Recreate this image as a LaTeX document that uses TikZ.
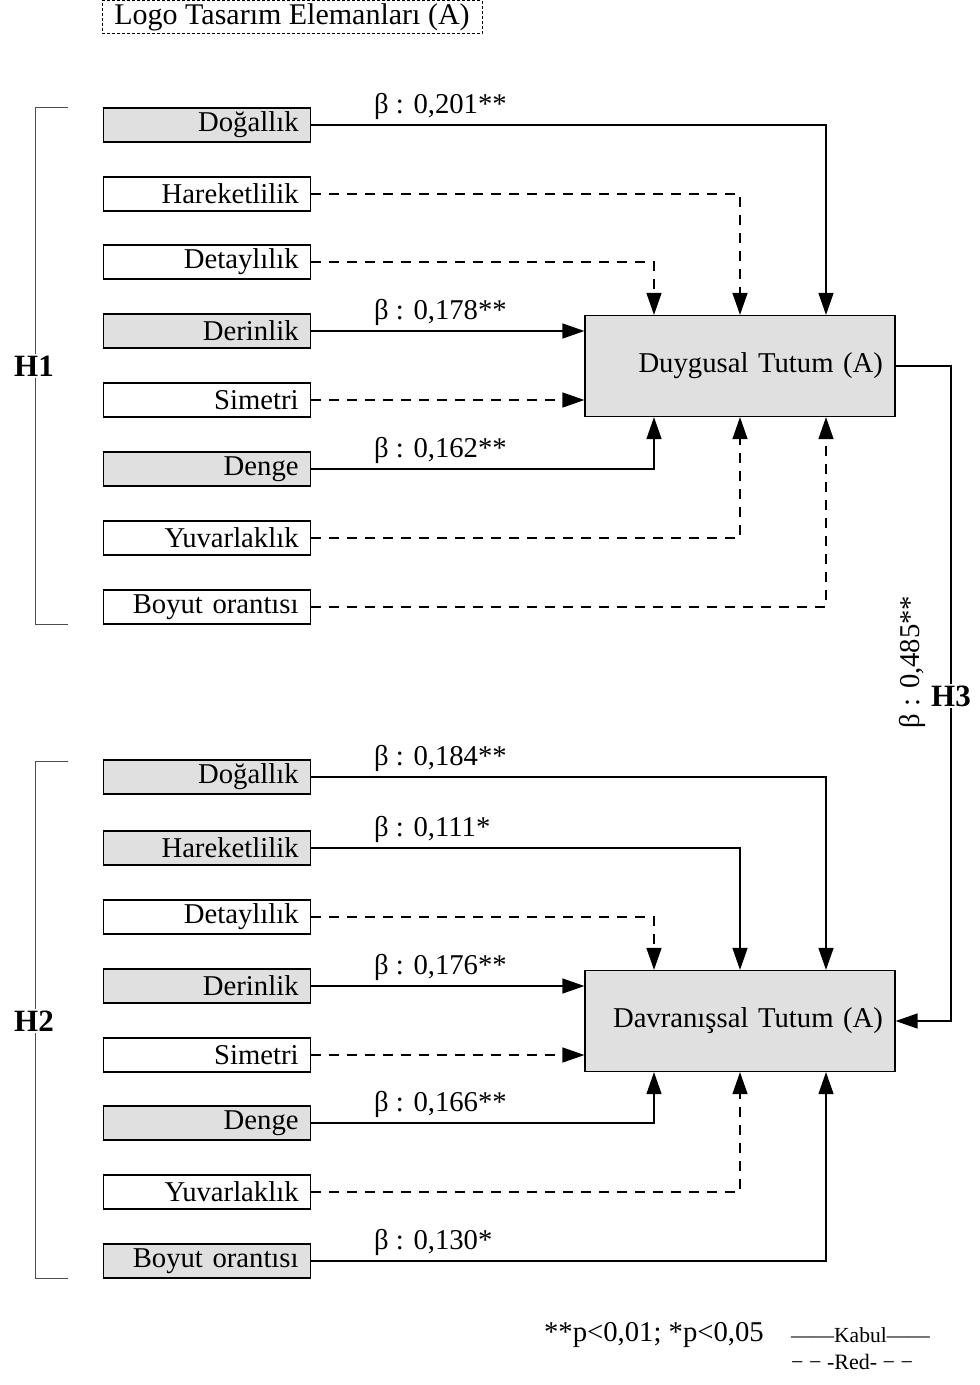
\documentclass[tikz,border=0pt]{standalone}
\usepackage{fontspec}
\setmainfont{Liberation Serif}
\usetikzlibrary{arrows.meta}
\definecolor{boxgray}{HTML}{E0E0E0}
\begin{document}
\begin{tikzpicture}[x=1pt,y=-1pt,
  every node/.style={font=\fontsize{28.7}{32}\selectfont},
  item/.style={draw, line width=1.2pt, text width=183pt, align=right, inner xsep=12pt, inner ysep=0pt, minimum height=34pt, anchor=west},
  acc/.style={item, fill=boxgray},
  rej/.style={item, fill=white},
  target/.style={draw, line width=1.2pt, fill=boxgray, text width=286pt, align=right, inner xsep=12pt, minimum height=101pt},
  conn/.style={line width=1.3pt, -{Triangle[length=22pt,width=15pt]}},
  sig/.style={conn},
  ns/.style={conn, dash pattern=on 10pt off 8pt},
  beta/.style={anchor=west, inner sep=0pt},
  brk/.style={line width=1pt, draw=black!70},
  hyp/.style={font=\fontsize{31}{34}\selectfont\bfseries, fill=white, inner sep=2pt}
]
\useasboundingbox (0,0) rectangle (980,1385);

% title
\node[draw, line width=1pt, dash pattern=on 3pt off 2pt, minimum width=380pt, minimum height=33pt, inner sep=0pt, font=\fontsize{30}{33}\selectfont] (title) at (292,17) {Logo Tasarım Elemanları (A)};

% target boxes
\node[target] (DT) at (740,366) {Duygusal Tutum (A)};
\node[target] (DV) at (740,1021) {Davranışsal Tutum (A)};

% column coordinates
\coordinate (cA) at (654,0);
\coordinate (cB) at (740,0);
\coordinate (cC) at (826,0);

% upper boxes
\node[acc] (u1) at (103,125) {Doğallık};
\node[rej] (u2) at (103,194) {Hareketlilik};
\node[rej] (u3) at (103,262) {Detaylılık};
\node[acc] (u4) at (103,331) {Derinlik};
\node[rej] (u5) at (103,400) {Simetri};
\node[acc] (u6) at (103,469) {Denge};
\node[rej] (u7) at (103,538) {Yuvarlaklık};
\node[rej] (u8) at (103,607) {Boyut orantısı};

% lower boxes
\node[acc] (l1) at (103,777) {Doğallık};
\node[acc] (l2) at (103,848) {Hareketlilik};
\node[rej] (l3) at (103,917) {Detaylılık};
\node[acc] (l4) at (103,986) {Derinlik};
\node[rej] (l5) at (103,1055) {Simetri};
\node[acc] (l6) at (103,1123) {Denge};
\node[rej] (l7) at (103,1192) {Yuvarlaklık};
\node[acc] (l8) at (103,1261) {Boyut orantısı};

% upper connectors
\draw[sig] (u1.east) -| (DT.north -| cC);
\draw[ns]  (u2.east) -| (DT.north -| cB);
\draw[ns]  (u3.east) -| (DT.north -| cA);
\draw[sig] (u4.east) -- (u4.east -| DT.west);
\draw[ns]  (u5.east) -- (u5.east -| DT.west);
\draw[sig] (u6.east) -| (DT.south -| cA);
\draw[ns]  (u7.east) -| (DT.south -| cB);
\draw[ns]  (u8.east) -| (DT.south -| cC);

% lower connectors
\draw[sig] (l1.east) -| (DV.north -| cC);
\draw[sig] (l2.east) -| (DV.north -| cB);
\draw[ns]  (l3.east) -| (DV.north -| cA);
\draw[sig] (l4.east) -- (l4.east -| DV.west);
\draw[ns]  (l5.east) -- (l5.east -| DV.west);
\draw[sig] (l6.east) -| (DV.south -| cA);
\draw[ns]  (l7.east) -| (DV.south -| cB);
\draw[sig] (l8.east) -| (DV.south -| cC);

% beta labels
\node[beta] (b1) at (374,106) {β : 0,201**};
\node[beta] (b4) at (374,312) {β : 0,178**};
\node[beta] (b6) at (374,450) {β : 0,162**};
\node[beta] (b9) at (374,758) {β : 0,184**};
\node[beta] (b10) at (374,829) {β : 0,111*};
\node[beta] (b12) at (374,967) {β : 0,176**};
\node[beta] (b14) at (374,1104) {β : 0,166**};
\node[beta] (b16) at (374,1242) {β : 0,130*};

% H3 connector
\coordinate (h3r) at (951,366);
\draw[conn] (DT.east) -- (h3r) |- (DV.east);
\node[rotate=90, inner sep=0pt] (b485) at (912,662) {β : 0,485**};
\node[hyp] (H3) at (951,696) {H3};

% brackets
\draw[brk] (68,107) -- (35,107) -- (35,624) -- (68,624);
\node[hyp] (H1) at (34,366) {H1};
\draw[brk] (68,761) -- (35,761) -- (35,1278) -- (68,1278);
\node[hyp] (H2) at (34,1021) {H2};

% legend
\node[anchor=east, inner sep=0pt] (pv) at (764,1335) {**p<0,01; *p<0,05};
\node[anchor=west, inner sep=0pt, font=\fontsize{21.5}{24}\selectfont] (kab) at (791,1335) {——Kabul——};
\node[anchor=west, inner sep=0pt, font=\fontsize{22}{24}\selectfont] (red) at (791,1362) {− − -Red- − −};
\end{tikzpicture}
\end{document}
